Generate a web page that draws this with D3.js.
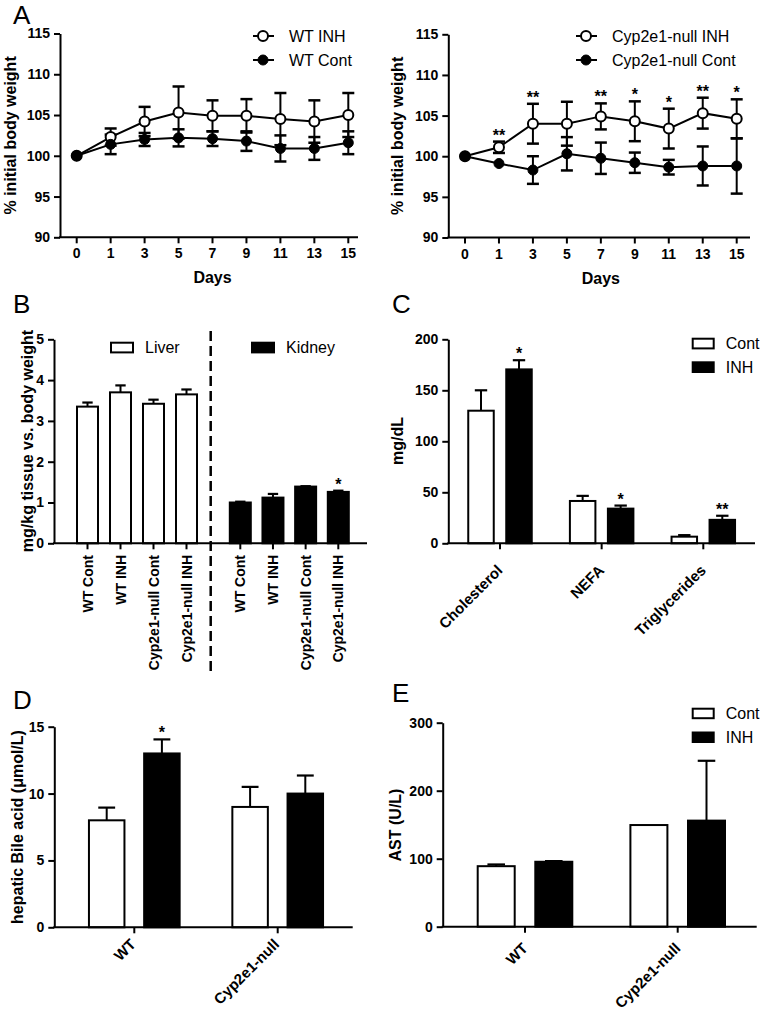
<!DOCTYPE html>
<html>
<head>
<meta charset="utf-8">
<script src="https://cdn.jsdelivr.net/npm/d3@7"></script>
<style>
  html, body { margin: 0; padding: 0; background: #fff; }
  svg { display: block; }
  text { font-family: "Liberation Sans", Arial, Helvetica, sans-serif; fill: #000; }
</style>
</head>
<body>
<svg id="chart" width="763" height="1011"></svg>
<script>
// ---------------- DATA ----------------
const days = ["0", "1", "3", "5", "7", "9", "11", "13", "15"];
const wtInh = [100, 102.3, 104.2, 105.3, 104.9, 104.9, 104.5, 104.2, 105.0];
const wtInhErr = [0, 1.05, 1.8, 3.2, 1.9, 2.05, 3.2, 2.6, 2.7];
const wtCont = [100, 101.4, 102.0, 102.2, 102.1, 101.8, 100.9, 100.9, 101.6];
const wtContErr = [0, 1.2, 0.8, 1.05, 0.9, 1.2, 1.6, 1.4, 1.4];
const nullInh = [100, 101.1, 104.0, 104.0, 104.9, 104.3, 103.4, 105.3, 104.6];
const nullInhErr = [0, 0.7, 2.45, 2.7, 1.6, 2.45, 2.45, 1.9, 2.4];
const nullCont = [100, 99.1, 98.3, 100.3, 99.75, 99.2, 98.65, 98.8, 98.8];
const nullContErr = [0, 0.2, 1.7, 2.05, 1.93, 1.25, 0.9, 2.4, 3.4];
const nullSig = ["", "**", "**", "", "**", "*", "*", "**", "*"];
const bwTicks = [90, 95, 100, 105, 110, 115];

const groups = ["WT Cont", "WT INH", "Cyp2e1-null Cont", "Cyp2e1-null INH"];
const liver = [3.35, 3.70, 3.42, 3.65];
const liverErr = [0.1, 0.17, 0.1, 0.12];
const kidney = [1.0, 1.12, 1.39, 1.26];
const kidneyErr = [0.02, 0.09, 0.01, 0.03];
const kidneySig = ["", "", "", "*"];
const organTicks = [0, 1, 2, 3, 4, 5];

const lipids = ["Cholesterol", "NEFA", "Triglycerides"];
const lipCont = [130, 41.5, 6.5];
const lipContErr = [20, 5, 1.5];
const lipInh = [170.5, 34, 23];
const lipInhErr = [9, 3, 4];
const lipSig = ["*", "*", "**"];
const lipTicks = [0, 50, 100, 150, 200];

const genotypes = ["WT", "Cyp2e1-null"];
const treatments = ["Cont", "INH"];
const bileCont = [8.0, 9.0];
const bileContErr = [0.95, 1.5];
const bileInh = [13.0, 10.0];
const bileInhErr = [1.05, 1.35];
const bileSig = ["*", ""];
const bileTicks = [0, 5, 10, 15];

const astCont = [89, 149.5];
const astContErr = [2.5, 0];
const astInh = [95.5, 156];
const astInhErr = [1, 88];
const astTicks = [0, 100, 200, 300];

// ---------------- HELPERS ----------------
const svg = d3.select("#chart");
const TICKFONT = 14, ROTFONT = 15, TITLEFONT = 16, LEGFONT = 16;

function yAxis(x, scale, ticks) {
  const g = svg.append("g").attr("transform", `translate(${x},0)`)
    .call(d3.axisLeft(scale).tickValues(ticks).tickSize(6).tickSizeOuter(0).tickPadding(4).tickFormat(d3.format("d")));
  g.select(".domain").attr("stroke", "#000").attr("stroke-width", 2);
  g.selectAll(".tick line").attr("stroke", "#000").attr("stroke-width", 2);
  g.selectAll(".tick text").attr("font-size", TICKFONT).attr("font-weight", "bold")
    .attr("font-family", "Liberation Sans, Arial, sans-serif").attr("fill", "#000");
  return g;
}
function xLine(x0, x1, y) {
  svg.append("line").attr("x1", x0 - 1).attr("x2", x1).attr("y1", y).attr("y2", y)
    .attr("stroke", "#000").attr("stroke-width", 2);
}
function xTicks(positions, y, len) {
  svg.append("g").selectAll("line").data(positions).join("line")
    .attr("x1", d => d).attr("x2", d => d).attr("y1", y).attr("y2", y + len)
    .attr("stroke", "#000").attr("stroke-width", 2);
}
function yTitle(text, x, y, size) {
  svg.append("text").attr("transform", `translate(${x},${y}) rotate(-90)`)
    .attr("text-anchor", "middle").attr("font-size", size || TITLEFONT).attr("font-weight", "bold").text(text);
}
function panelLetter(t, x, y) {
  svg.append("text").attr("x", x).attr("y", y).attr("font-size", 26).text(t);
}
function star(t, x, y) {
  if (!t) return;
  svg.append("text").attr("x", x).attr("y", y).attr("text-anchor", "middle")
    .attr("font-size", 16).attr("font-weight", "bold").text(t);
}
function bar(cx, bw, yScale, v, e, filled, sig) {
  const y0 = yScale(0), yv = yScale(v);
  const capW = bw * 0.45;
  if (e > 0) {
    const ye = yScale(v + e);
    svg.append("line").attr("x1", cx).attr("x2", cx).attr("y1", yv).attr("y2", ye)
      .attr("stroke", "#000").attr("stroke-width", 2);
    svg.append("line").attr("x1", cx - capW / 2).attr("x2", cx + capW / 2).attr("y1", ye).attr("y2", ye)
      .attr("stroke", "#000").attr("stroke-width", 2.2);
  }
  svg.append("rect").attr("x", cx - bw / 2 + 1).attr("y", yv).attr("width", bw - 2).attr("height", y0 - yv)
    .attr("fill", filled ? "#000" : "#fff").attr("stroke", "#000").attr("stroke-width", 2);
  if (sig) star(sig, cx, yScale(v + e) - 1);
}
function legendBox(x, y, w, h, filled, label) {
  svg.append("rect").attr("x", x + 1).attr("y", y + 1).attr("width", w - 2).attr("height", h - 2)
    .attr("fill", filled ? "#000" : "#fff").attr("stroke", "#000").attr("stroke-width", 2);
  svg.append("text").attr("x", x + w + 11).attr("y", y + h / 2).attr("dy", "0.35em")
    .attr("font-size", LEGFONT).text(label);
}
function rotLabels(cats, xs, axisY, dx, dy) {
  svg.append("g").selectAll("text").data(cats).join("text")
    .attr("transform", (d, i) => `translate(${xs[i] + dx},${axisY + dy}) rotate(-45)`)
    .attr("text-anchor", "end").attr("font-size", ROTFONT).attr("font-weight", "bold").text(d => d);
}

// ---------------- PANEL A ----------------
function linePanel(cfg) {
  const x = d3.scalePoint().domain(days).range([cfg.px0, cfg.px1]);
  const y = d3.scaleLinear().domain([90, 115]).range([cfg.yb, cfg.yt]);
  yAxis(cfg.ax, y, bwTicks);
  xLine(cfg.ax, cfg.xEnd, cfg.yb);
  xTicks(days.map(d => x(d)), cfg.yb, 6);
  svg.append("g").selectAll("text").data(days).join("text")
    .attr("x", d => x(d)).attr("y", cfg.yb + 21).attr("text-anchor", "middle")
    .attr("font-size", TICKFONT).attr("font-weight", "bold").text(d => d);
  svg.append("text").attr("x", (cfg.px0 + cfg.px1) / 2).attr("y", cfg.yb + 46)
    .attr("text-anchor", "middle").attr("font-size", TITLEFONT).attr("font-weight", "bold").text("Days");
  yTitle("% initial body weight", cfg.titleX, (cfg.yb + cfg.yt) / 2);

  const series = [
    { v: cfg.inh, e: cfg.inhErr, open: true },
    { v: cfg.cont, e: cfg.contErr, open: false }
  ];
  const line = d3.line().x((d, i) => x(days[i])).y(d => y(d));
  const capW = 12;
  series.forEach(s => {
    s.v.forEach((v, i) => {
      if (s.e[i] <= 0.3) return;
      const cx = x(days[i]), yt = y(v + s.e[i]), yb = y(v - s.e[i]);
      svg.append("line").attr("x1", cx).attr("x2", cx).attr("y1", yt).attr("y2", yb).attr("stroke", "#000").attr("stroke-width", 2);
      [yt, yb].forEach(yy => svg.append("line").attr("x1", cx - capW / 2).attr("x2", cx + capW / 2)
        .attr("y1", yy).attr("y2", yy).attr("stroke", "#000").attr("stroke-width", 2.5));
    });
  });
  series.forEach(s => {
    svg.append("path").datum(s.v).attr("d", line).attr("fill", "none").attr("stroke", "#000").attr("stroke-width", 2);
  });
  series.forEach(s => {
    svg.append("g").selectAll("circle").data(s.v).join("circle")
      .attr("cx", (d, i) => x(days[i])).attr("cy", d => y(d))
      .attr("r", 5)
      .attr("fill", s.open ? "#fff" : "#000").attr("stroke", "#000").attr("stroke-width", s.open ? 2 : 1);
  });
  if (cfg.sig) {
    cfg.sig.forEach((t, i) => star(t, x(days[i]), y(cfg.inh[i] + cfg.inhErr[i]) - 1));
  }
  const lx = cfg.legX;
  [[36, true, cfg.names[0]], [60, false, cfg.names[1]]].forEach(([ly, open, name]) => {
    svg.append("line").attr("x1", lx - 10).attr("x2", lx + 11).attr("y1", ly).attr("y2", ly).attr("stroke", "#000").attr("stroke-width", 2);
    svg.append("circle").attr("cx", lx).attr("cy", ly).attr("r", 5)
      .attr("fill", open ? "#fff" : "#000").attr("stroke", "#000").attr("stroke-width", open ? 2 : 1);
    svg.append("text").attr("x", lx + 26).attr("y", ly).attr("dy", "0.35em").attr("font-size", LEGFONT).text(name);
  });
}

panelLetter("A", 13, 23.5);
linePanel({ ax: 60, xEnd: 358, px0: 76.7, px1: 348.3, yb: 237.3, yt: 33.5, titleX: 16,
  inh: wtInh, inhErr: wtInhErr, cont: wtCont, contErr: wtContErr,
  names: ["WT INH", "WT Cont"], legX: 263 });
linePanel({ ax: 448.3, xEnd: 750, px0: 465, px1: 736.7, yb: 237.5, yt: 34.3, titleX: 403,
  inh: nullInh, inhErr: nullInhErr, cont: nullCont, contErr: nullContErr, sig: nullSig,
  names: ["Cyp2e1-null INH", "Cyp2e1-null Cont"], legX: 586 });

// ---------------- PANEL B ----------------
panelLetter("B", 13, 312.5);
(function () {
  const y = d3.scaleLinear().domain([0, 5]).range([543.3, 339.3]);
  const xl = d3.scalePoint().domain(groups).range([87.5, 186.5]);
  const xk = d3.scalePoint().domain(groups).range([240.3, 338.3]);
  const bw = 23;
  groups.forEach((g, i) => bar(xl(g), bw, y, liver[i], liverErr[i], false, ""));
  groups.forEach((g, i) => bar(xk(g), bw, y, kidney[i], kidneyErr[i], true, kidneySig[i]));
  yAxis(54, y, organTicks);
  xLine(54, 367, 543.3);
  const pos = groups.map(g => xl(g)).concat(groups.map(g => xk(g)));
  xTicks(pos, 543.3, 6);
  svg.append("g").selectAll("text").data(groups.concat(groups)).join("text")
    .attr("transform", (d, i) => `translate(${pos[i] + 5},${555}) rotate(-90)`)
    .attr("text-anchor", "end").attr("font-size", TICKFONT).attr("font-weight", "bold").text(d => d);
  svg.append("line").attr("x1", 210.7).attr("x2", 210.7).attr("y1", 331).attr("y2", 674)
    .attr("stroke", "#000").attr("stroke-width", 2.5).attr("stroke-dasharray", "10,5");
  yTitle("mg/kg tissue vs. body weight", 33, 441);
  legendBox(110, 341.7, 24, 11.7, false, "Liver");
  legendBox(251, 341.7, 24, 11.7, true, "Kidney");
})();

// ---------------- PANEL C ----------------
panelLetter("C", 392, 312.5);
(function () {
  const y = d3.scaleLinear().domain([0, 200]).range([543.3, 339.3]);
  const x0 = d3.scalePoint().domain(lipids).range([500, 703.3]);
  const x1 = d3.scalePoint().domain(treatments).range([-19, 19]);
  const bw = 27.5;
  lipids.forEach((c, i) => {
    bar(x0(c) + x1("Cont"), bw, y, lipCont[i], lipContErr[i], false, "");
    bar(x0(c) + x1("INH"), bw, y, lipInh[i], lipInhErr[i], true, lipSig[i]);
  });
  yAxis(448.3, y, lipTicks);
  xLine(448.3, 755, 543.3);
  xTicks(lipids.map(c => x0(c)), 543.3, 6);
  rotLabels(lipids, lipids.map(c => x0(c)), 543.3, 3.5, 28);
  yTitle("mg/dL", 403, 441);
  legendBox(691.7, 337.7, 23, 11.7, false, "Cont");
  legendBox(691.7, 361.3, 23, 11.7, true, "INH");
})();

// ---------------- PANEL D ----------------
panelLetter("D", 13, 708.5);
(function () {
  const y = d3.scaleLinear().domain([0, 15]).range([927.3, 726.7]);
  const x0 = d3.scalePoint().domain(genotypes).range([134.3, 277.7]);
  const x1 = d3.scalePoint().domain(treatments).range([-27.6, 27.6]);
  const bw = 37.5;
  genotypes.forEach((g, i) => {
    bar(x0(g) + x1("Cont"), bw, y, bileCont[i], bileContErr[i], false, "");
    bar(x0(g) + x1("INH"), bw, y, bileInh[i], bileInhErr[i], true, bileSig[i]);
  });
  yAxis(54.3, y, bileTicks);
  xLine(54.3, 352.7, 927.3);
  xTicks(genotypes.map(g => x0(g)), 927.3, 6);
  rotLabels(genotypes, genotypes.map(g => x0(g)), 927.3, 2.5, 18);
  yTitle("hepatic Bile acid  (\u03bcmol/L)", 23, 827);
})();

// ---------------- PANEL E ----------------
panelLetter("E", 392, 702);
(function () {
  const y = d3.scaleLinear().domain([0, 300]).range([926.7, 722.7]);
  const x0 = d3.scalePoint().domain(genotypes).range([525, 677.7]);
  const x1 = d3.scalePoint().domain(treatments).range([-28.8, 28.8]);
  const bw = 39;
  genotypes.forEach((g, i) => {
    bar(x0(g) + x1("Cont"), bw, y, astCont[i], astContErr[i], false, "");
    bar(x0(g) + x1("INH"), bw, y, astInh[i], astInhErr[i], true, "");
  });
  yAxis(442.7, y, astTicks);
  xLine(442.7, 756.7, 926.7);
  xTicks(genotypes.map(g => x0(g)), 926.7, 6);
  rotLabels(genotypes, genotypes.map(g => x0(g)), 926.7, 3.8, 22.5);
  yTitle("AST (U/L)", 401, 825);
  legendBox(691.7, 707.7, 23, 11.5, false, "Cont");
  legendBox(691.7, 731.5, 23, 11.5, true, "INH");
})();
</script>
</body>
</html>
